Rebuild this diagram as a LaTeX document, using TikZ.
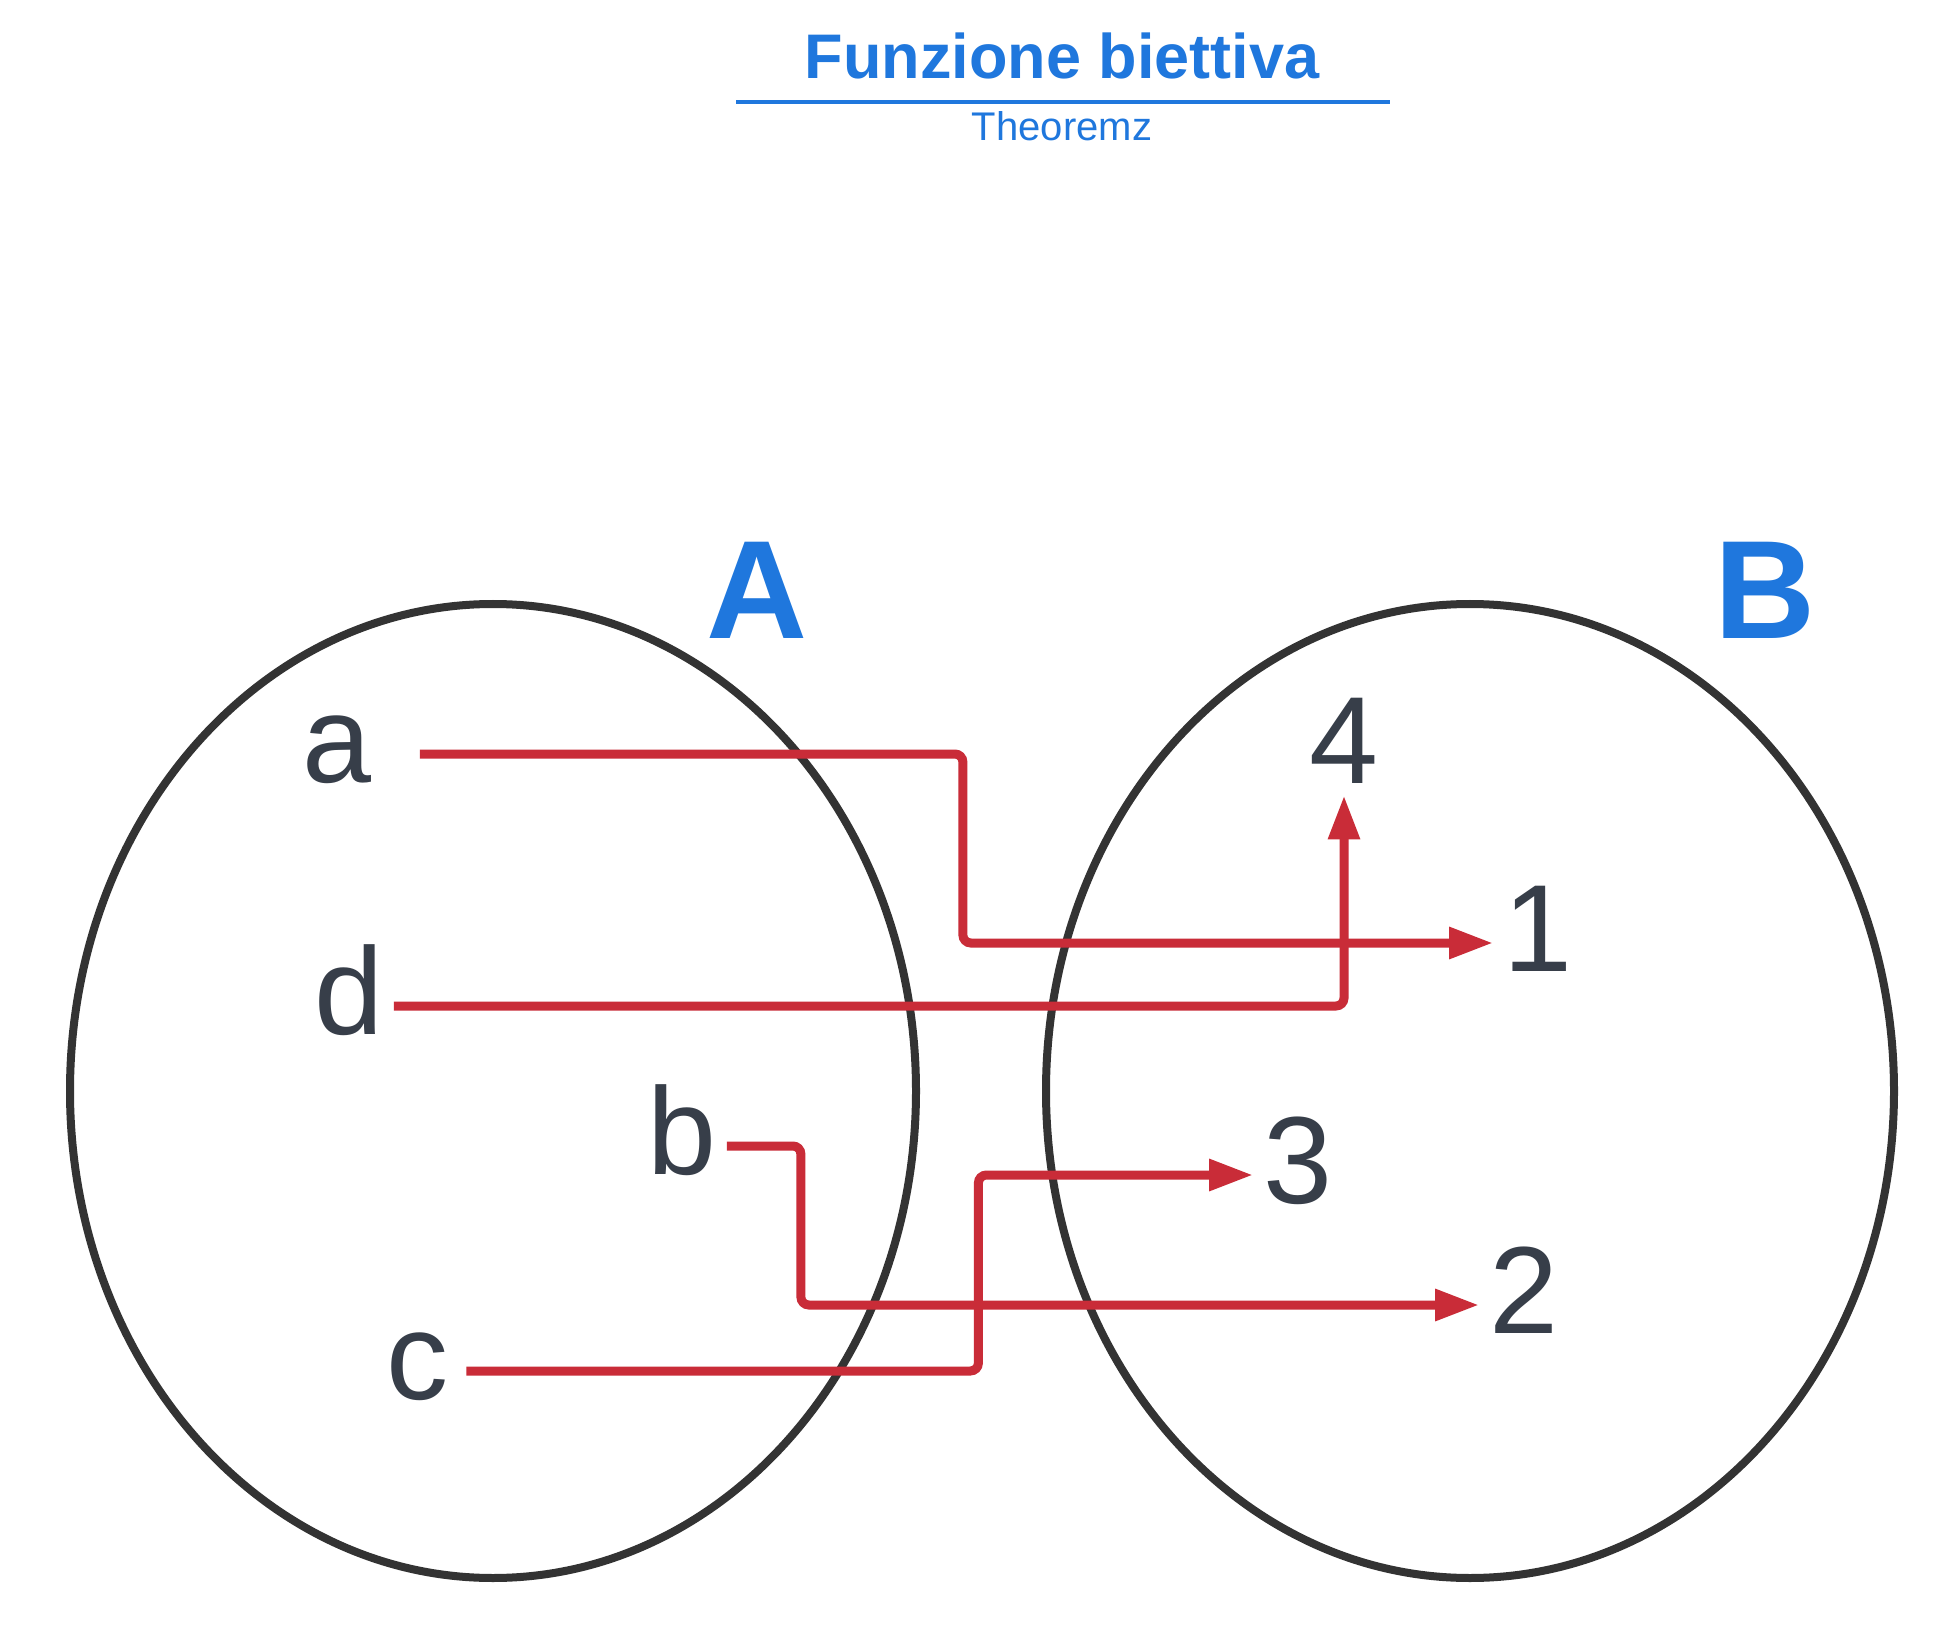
\documentclass[tikz,border=0pt]{standalone}
\usepackage{fontspec}
\setmainfont{Liberation Sans}
\usetikzlibrary{arrows.meta}

\definecolor{setgray}{HTML}{333333}
\definecolor{elemcol}{HTML}{373E49}
\definecolor{titleblue}{HTML}{1F77DD}
\definecolor{mapred}{HTML}{C92C38}

\begin{document}
\begin{tikzpicture}[
  x=0.5pt, y=-0.5pt,
  setline/.style={draw=setgray, line width=4pt},
  elem/.style={anchor=base, text=elemcol, font=\fontsize{62}{62}\selectfont,
    text height=28pt, text depth=0pt, inner xsep=5pt, inner ysep=6pt},
  setname/.style={anchor=base, text=titleblue, font=\fontsize{70}{70}\selectfont\bfseries},
  titletext/.style={anchor=base, text=titleblue, font=\fontsize{31.5}{31.5}\selectfont\bfseries},
  subtext/.style={anchor=base, text=titleblue, font=\fontsize{20}{20}\selectfont},
  maparr/.style={draw=mapred, line width=4.5pt, rounded corners=4pt,
    -{Triangle[length=22pt, width=15pt]}}
]
\path[use as bounding box, fill=white] (0,0) rectangle (1944,1636);

% title
\node[titletext] (title) at (1062,79) {Funzione biettiva};
\draw[titleblue, line width=2pt] (736,102) -- (1390,102);
\node[subtext] (sub) at (1062,141) {Theoremz};

% the two sets
\draw[setline] (493,1091) ellipse [x radius=423, y radius=487];
\draw[setline] (1470,1091) ellipse [x radius=424, y radius=487];
\node[setname] (setA) at (757,639) {A};
\node[setname] (setB) at (1765,639) {B};

% elements of A
\node[elem] (a) at (337,782) {a};
\node[elem] (d) at (349,1034) {d};
\node[elem] (b) at (682,1174) {b};
\node[elem] (c) at (417,1399) {c};

% elements of B
\node[elem] (four) at (1344,783) {4};
\node[elem] (one) at (1538,971) {1};
\node[elem] (three) at (1298,1203) {3};
\node[elem] (two) at (1524,1333) {2};

\draw[maparr] ([xshift=19pt]a.east) -- ++(543,0) |- (one.west);
\draw[maparr] (d.east) -| (four.south);
\draw[maparr] (b.east) -- ++(74,0) |- (two.west);
\draw[maparr] ([xshift=4pt]c.east) -- ++(512,0) |- (three.west);

\end{tikzpicture}
\end{document}
